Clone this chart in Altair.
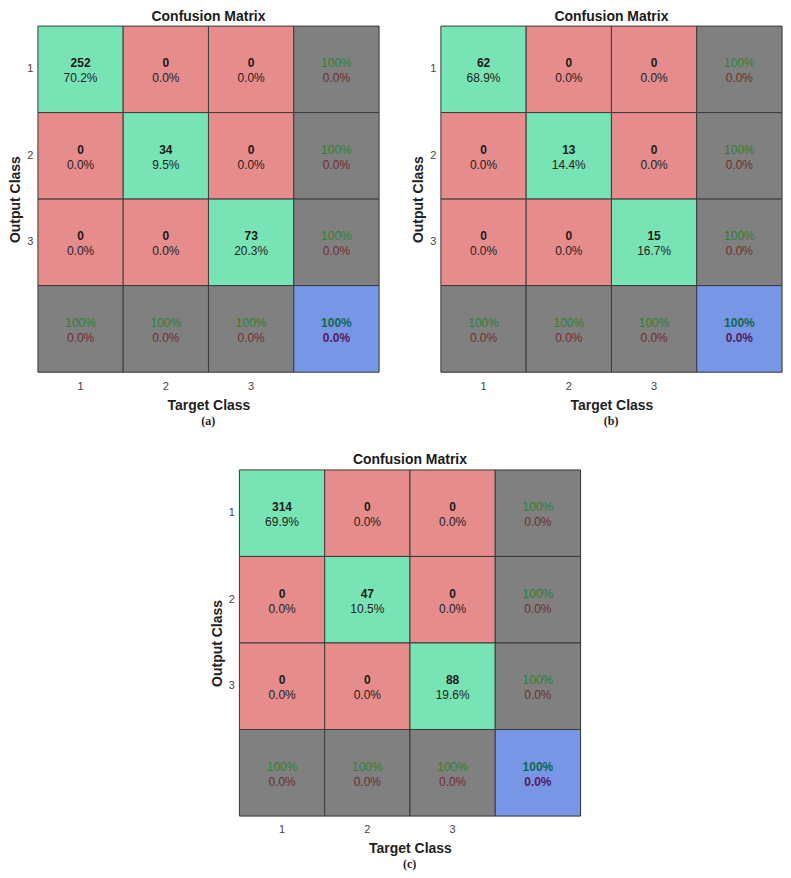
import altair as alt
import pandas as pd

classes = ["1", "2", "3"]
summary_key = "T"

counts_a = [[252, 0, 0], [0, 34, 0], [0, 0, 73]]
pcts_a = [["70.2%", "0.0%", "0.0%"], ["0.0%", "9.5%", "0.0%"], ["0.0%", "0.0%", "20.3%"]]
counts_b = [[62, 0, 0], [0, 13, 0], [0, 0, 15]]
pcts_b = [["68.9%", "0.0%", "0.0%"], ["0.0%", "14.4%", "0.0%"], ["0.0%", "0.0%", "16.7%"]]
counts_c = [[314, 0, 0], [0, 47, 0], [0, 0, 88]]
pcts_c = [["69.9%", "0.0%", "0.0%"], ["0.0%", "10.5%", "0.0%"], ["0.0%", "0.0%", "19.6%"]]

row_acc = ["100%", "100%", "100%"]
row_err = ["0.0%", "0.0%", "0.0%"]
col_acc = ["100%", "100%", "100%"]
col_err = ["0.0%", "0.0%", "0.0%"]
overall_acc = "100%"
overall_err = "0.0%"

captions = ["(a)", "(b)", "(c)"]

GREEN = "#78e3b4"
RED = "#e68c8c"
GRAY = "#808080"
BLUE = "#7896e6"
FONT = "Liberation Sans"
W = 342
H = 347
dom = classes + [summary_key]


def build_df(counts, pcts):
    recs = []
    for i, r in enumerate(classes):
        for j, c in enumerate(classes):
            recs.append(dict(row=r, col=c, kind="main", l1=str(counts[i][j]), l2=pcts[i][j],
                             fill=GREEN if i == j else RED))
        recs.append(dict(row=r, col=summary_key, kind="sum", l1=row_acc[i], l2=row_err[i], fill=GRAY))
    for j, c in enumerate(classes):
        recs.append(dict(row=summary_key, col=c, kind="sum", l1=col_acc[j], l2=col_err[j], fill=GRAY))
    recs.append(dict(row=summary_key, col=summary_key, kind="all", l1=overall_acc, l2=overall_err, fill=BLUE))
    return pd.DataFrame(recs)


def panel(df, cap):
    base = alt.Chart(df)
    x = alt.X("col:O", scale=alt.Scale(domain=dom, paddingInner=0, paddingOuter=0),
              axis=alt.Axis(title="Target Class", labelExpr="datum.value == 'T' ? '' : datum.value",
                            labelAngle=0, ticks=False, domain=False, labelPadding=8, titlePadding=7,
                            labelFontSize=11, titleFontSize=14, titleFontWeight="bold",
                            labelColor="#444444", titleColor="#222222", labelFont=FONT, titleFont=FONT))
    y = alt.Y("row:O", scale=alt.Scale(domain=dom, paddingInner=0, paddingOuter=0),
              axis=alt.Axis(title="Output Class", labelExpr="datum.value == 'T' ? '' : datum.value",
                            labelAngle=0, ticks=False, domain=False, labelPadding=5, titlePadding=4,
                            labelFontSize=11, titleFontSize=14, titleFontWeight="bold",
                            labelColor="#444444", titleColor="#222222", labelFont=FONT, titleFont=FONT))
    rect = base.mark_rect(stroke="#3a3a3a", strokeWidth=1).encode(
        x=x, y=y, fill=alt.Fill("fill:N", scale=None))

    def txt(kind, field, dy, color, weight):
        return base.transform_filter(alt.datum.kind == kind).mark_text(
            dy=dy, color=color, fontWeight=weight, fontSize=12, font=FONT
        ).encode(x=x, y=y, text=f"{field}:N")

    layers = [
        rect,
        txt("main", "l1", -6, "#1a1a1a", "bold"),
        txt("main", "l2", 9, "#222222", "normal"),
        txt("sum", "l1", -6, "#2f802f", "normal"),
        txt("sum", "l2", 9, "#702c2c", "normal"),
        txt("all", "l1", -6, "#116650", "bold"),
        txt("all", "l2", 9, "#55195e", "bold"),
    ]
    lay = alt.layer(*layers).properties(
        width=W, height=H,
        title=alt.TitleParams("Confusion Matrix", font=FONT, fontSize=14, fontWeight="bold",
                              color="#1a1a1a", offset=2))
    return alt.vconcat(lay).properties(
        title=alt.TitleParams(cap, orient="bottom", anchor="middle", dx=14, font="Liberation Serif",
                              fontSize=12, fontWeight="bold", color="#222222", offset=3))


pa = panel(build_df(counts_a, pcts_a), captions[0])
pb = panel(build_df(counts_b, pcts_b), captions[1])
pc = panel(build_df(counts_c, pcts_c), captions[2])

top = alt.hconcat(pa, pb, spacing=31)
chart = alt.vconcat(top, pc, spacing=26, center=True).properties(padding=0).configure_view(
    stroke="#333333", strokeWidth=1.5).configure(background="white")

chart.save("out.html", embed_options={"renderer": "svg", "actions": False})
